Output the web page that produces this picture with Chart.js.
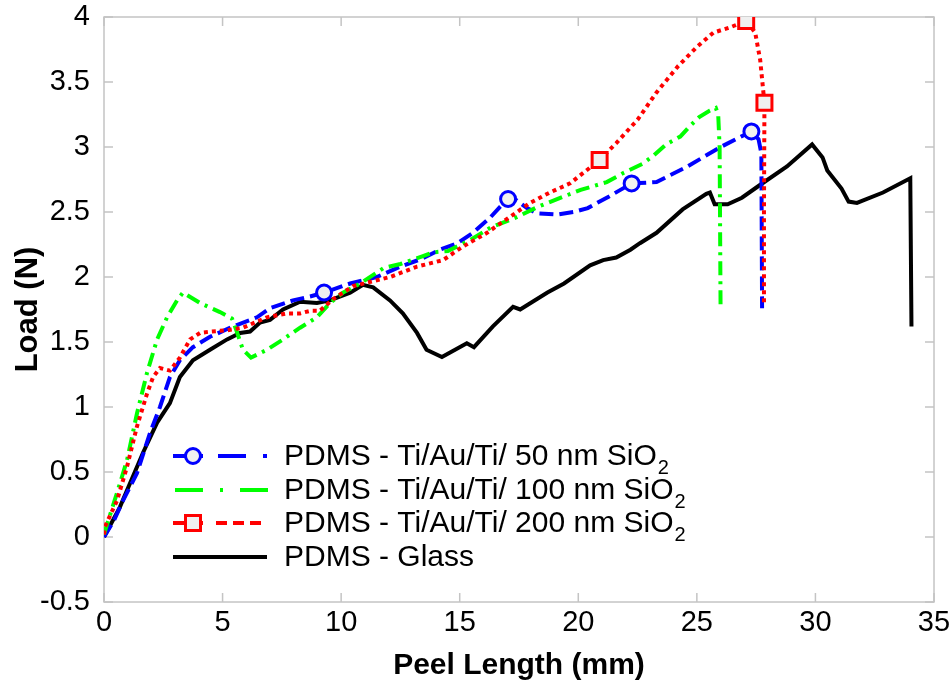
<!DOCTYPE html>
<html>
<head>
<meta charset="utf-8">
<script src="https://cdn.jsdelivr.net/npm/chart.js@4"></script>
<style>
  html, body { margin: 0; padding: 0; background: #fff; }
  #wrap { width: 951px; height: 684px; position: relative; }
</style>
</head>
<body>
<div id="wrap"><canvas id="chart" width="951" height="684"></canvas></div>
<script>
// Peel test curves

const seriesLabels = [
  'PDMS - Ti/Au/Ti/ 50 nm SiO',
  'PDMS - Ti/Au/Ti/ 100 nm SiO',
  'PDMS - Ti/Au/Ti/ 200 nm SiO',
  'PDMS - Glass'
];
const labelSubs = ['2', '2', '2', ''];

const xTicks = [0, 5, 10, 15, 20, 25, 30, 35];
const yTicks = [-0.5, 0, 0.5, 1, 1.5, 2, 2.5, 3, 3.5, 4];

// 50 nm SiO2
const nm50X = [0, 0.4, 0.8, 1.39, 1.94, 2.36, 2.78, 3.2, 3.75, 4.47, 5.44, 6.45, 7.0, 7.97, 8.69, 9.28,
  10.38, 11.5, 12.5, 13.4, 14.17, 14.9, 15.56, 16.3, 16.7, 17.04, 17.4, 17.84, 18.26, 19.1, 19.8, 20.4,
  21.3, 22.25, 23.3, 24.6, 26.0, 27.3, 27.6, 27.72, 27.75];
const nm50Y = [0, 0.12, 0.28, 0.49, 0.80, 1.0, 1.23, 1.36, 1.46, 1.54, 1.62, 1.69, 1.76, 1.82, 1.85, 1.88,
  1.95, 2.0, 2.08, 2.14, 2.21, 2.26, 2.34, 2.46, 2.54, 2.60, 2.59, 2.53, 2.49, 2.48, 2.50, 2.53,
  2.62, 2.72, 2.73, 2.85, 3.0, 3.12, 3.06, 2.95, 1.76];
const nm50Markers = [9.28, 17.04, 22.25, 27.3];

// 100 nm SiO2
const nm100X = [0, 0.1, 0.55, 0.97, 1.39, 1.81, 2.24, 2.66, 3.08, 3.33, 4.05, 4.89, 5.4, 5.6, 5.86, 6.2,
  6.87, 7.55, 8.27, 8.98, 9.53, 10.08, 10.8, 11.8, 12.5, 13.45, 13.9, 14.5, 15.4, 16.3, 17.4, 18.3,
  19.4, 20.1, 21.2, 21.9, 22.7, 23.15, 23.7, 24.3, 24.7, 25.1, 25.55, 25.8, 25.9, 25.96, 26.0];
const nm100Y = [0.02, 0.08, 0.34, 0.59, 0.95, 1.26, 1.52, 1.69, 1.82, 1.88, 1.80, 1.73, 1.68, 1.58, 1.44, 1.38,
  1.44, 1.52, 1.61, 1.69, 1.80, 1.88, 1.95, 2.07, 2.10, 2.16, 2.19, 2.20, 2.28, 2.38, 2.46, 2.54,
  2.62, 2.67, 2.73, 2.80, 2.87, 2.93, 3.02, 3.08, 3.16, 3.23, 3.28, 3.30, 3.25, 3.0, 1.76];

// 200 nm SiO2
const nm200X = [0, 0.04, 0.55, 0.97, 1.39, 1.81, 2.07, 2.36, 2.78, 3.2, 3.63, 4.05, 4.47, 5.19, 5.86, 6.87,
  7.7, 8.27, 8.7, 9.1, 9.66, 10.5, 12.06, 13.2, 14.3, 15.1, 16.15, 17.1, 17.97, 18.8, 19.65, 20.9,
  21.6, 22.5, 23.3, 24.2, 25.0, 25.7, 26.4, 27.08, 27.46, 27.67, 27.85, 27.83, 27.83];
const nm200Y = [0.02, 0.08, 0.28, 0.54, 0.85, 1.10, 1.23, 1.30, 1.28, 1.38, 1.52, 1.57, 1.58, 1.59, 1.61, 1.69,
  1.72, 1.72, 1.74, 1.74, 1.83, 1.93, 2.0, 2.08, 2.13, 2.23, 2.34, 2.46, 2.57, 2.65, 2.72, 2.90,
  3.03, 3.21, 3.42, 3.62, 3.77, 3.88, 3.92, 3.97, 3.88, 3.67, 3.34, 2.5, 1.80];
const nm200Markers = [20.9, 27.08, 27.85];

// PDMS - Glass
const glassX = [0, 0.67, 1.65, 2.24, 2.78, 3.2, 3.75, 4.47, 5.19, 5.74, 6.16, 6.58, 7.0, 7.55, 8.27, 8.98,
  9.53, 10.38, 10.92, 11.35, 12.06, 12.6, 13.2, 13.6, 14.25, 14.9, 15.3, 15.6, 16.4, 17.25, 17.55, 18.7,
  19.4, 20.5, 21.05, 21.6, 22.2, 22.6, 23.3, 24.4, 25.4, 25.55, 25.75, 26.3, 26.9, 27.6, 28.8, 29.86,
  30.3, 30.5, 31.1, 31.4, 31.75, 32.85, 34.0, 34.05];
const glassY = [0, 0.23, 0.65, 0.88, 1.03, 1.23, 1.36, 1.44, 1.52, 1.57, 1.58, 1.65, 1.67, 1.75, 1.81, 1.80,
  1.82, 1.88, 1.94, 1.92, 1.82, 1.72, 1.57, 1.44, 1.385, 1.45, 1.49, 1.46, 1.62, 1.77, 1.75, 1.88,
  1.95, 2.09, 2.13, 2.15, 2.21, 2.26, 2.34, 2.52, 2.64, 2.65, 2.56, 2.56, 2.61, 2.70, 2.85, 3.02,
  2.92, 2.82, 2.68, 2.58, 2.57, 2.65, 2.76, 1.62];

const FONT = '"Liberation Sans", Arial, Helvetica, sans-serif';

function pts(xs, ys) {
  return xs.map((x, i) => ({ x: x, y: ys[i] }));
}

function markerRadius(list, r) {
  return function(c) {
    if (!c.raw) return 0;
    return list.indexOf(c.raw.x) >= 0 ? r : 0;
  };
}

// MATLAB-like box with inward ticks
const boxPlugin = {
  id: 'box',
  beforeDatasetsDraw(chart) {
    const ctx = chart.ctx;
    const a = chart.chartArea;
    const xs = chart.scales.x, ys = chart.scales.y;
    ctx.save();
    ctx.strokeStyle = '#c4c4c4';
    ctx.lineWidth = 1.5;
    ctx.strokeRect(a.left, a.top, a.right - a.left, a.bottom - a.top);
    ctx.beginPath();
    xTicks.forEach(v => {
      const px = xs.getPixelForValue(v);
      ctx.moveTo(px, a.bottom); ctx.lineTo(px, a.bottom - 9);
      ctx.moveTo(px, a.top); ctx.lineTo(px, a.top + 9);
    });
    yTicks.forEach(v => {
      const py = ys.getPixelForValue(v);
      ctx.moveTo(a.left, py); ctx.lineTo(a.left + 9, py);
      ctx.moveTo(a.right, py); ctx.lineTo(a.right - 9, py);
    });
    ctx.stroke();
    ctx.restore();
  }
};

// legend drawn by hand to get MATLAB style samples
const legendPlugin = {
  id: 'matlabLegend',
  afterDraw(chart) {
    const ctx = chart.ctx;
    const rows = [456, 490, 523, 557];
    ctx.save();
    ctx.lineWidth = 4;
    ctx.lineCap = 'butt';

    // blue
    let y = rows[0];
    ctx.strokeStyle = '#0000ff';
    ctx.setLineDash([30, 15, 28, 17, 4, 100]);
    ctx.beginPath(); ctx.moveTo(173, y); ctx.lineTo(267, y); ctx.stroke();
    ctx.setLineDash([]);
    ctx.fillStyle = '#f0f0f0';
    ctx.lineWidth = 3;
    ctx.beginPath(); ctx.arc(193, y, 7.5, 0, Math.PI * 2); ctx.fill(); ctx.stroke();

    // green
    y = rows[1];
    ctx.lineWidth = 4;
    ctx.strokeStyle = '#00ff00';
    ctx.setLineDash([28, 17, 3, 17, 28, 100]);
    ctx.beginPath(); ctx.moveTo(175, y); ctx.lineTo(268, y); ctx.stroke();

    // red
    y = rows[2];
    ctx.strokeStyle = '#ff0000';
    ctx.setLineDash([]);
    ctx.beginPath(); ctx.moveTo(173, y); ctx.lineTo(203, y); ctx.stroke();
    ctx.setLineDash([11, 6]);
    ctx.beginPath(); ctx.moveTo(216, y); ctx.lineTo(262, y); ctx.stroke();
    ctx.setLineDash([]);
    ctx.lineWidth = 3;
    ctx.beginPath(); ctx.rect(185.5, y - 7.5, 15, 15); ctx.fill(); ctx.stroke();

    // black
    y = rows[3];
    ctx.lineWidth = 4;
    ctx.strokeStyle = '#000000';
    ctx.beginPath(); ctx.moveTo(173, y); ctx.lineTo(267, y); ctx.stroke();

    // labels
    ctx.fillStyle = '#000';
    ctx.textBaseline = 'middle';
    ctx.textAlign = 'left';
    seriesLabels.forEach((t, i) => {
      ctx.font = '30px ' + FONT;
      ctx.fillText(t, 284, rows[i] + 1);
      if (labelSubs[i]) {
        const w = ctx.measureText(t).width;
        ctx.font = '20px ' + FONT;
        ctx.fillText(labelSubs[i], 284 + w + 1, rows[i] + 12);
      }
    });
    ctx.restore();
  }
};

const ctx = document.getElementById('chart').getContext('2d');
new Chart(ctx, {
  type: 'line',
  data: {
    datasets: [
      {
        label: seriesLabels[2],
        data: pts(nm200X, nm200Y),
        borderColor: '#ff0000',
        borderWidth: 4,
        borderDash: [4, 4],
        pointStyle: 'rect',
        pointRadius: markerRadius(nm200Markers, 10.6),
        pointBorderWidth: 3,
        pointBorderColor: '#ff0000',
        pointBackgroundColor: '#f0f0f0',
        tension: 0
      },
      {
        label: seriesLabels[1],
        data: pts(nm100X, nm100Y),
        borderColor: '#00ff00',
        borderWidth: 4,
        borderDash: [14, 6, 3, 6],
        pointRadius: 0,
        tension: 0
      },
      {
        label: seriesLabels[0],
        data: pts(nm50X, nm50Y),
        borderColor: '#0000ff',
        borderWidth: 4,
        borderDash: [14, 6],
        pointStyle: 'circle',
        pointRadius: markerRadius(nm50Markers, 7.5),
        pointBorderWidth: 3,
        pointBorderColor: '#0000ff',
        pointBackgroundColor: '#f0f0f0',
        tension: 0
      },
      {
        label: seriesLabels[3],
        data: pts(glassX, glassY),
        borderColor: '#000000',
        borderWidth: 4,
        pointRadius: 0,
        tension: 0
      }
    ]
  },
  options: {
    responsive: false,
    animation: false,
    devicePixelRatio: 1,
    layout: { padding: { top: 17, right: 17, left: 0, bottom: 0 } },
    plugins: {
      legend: { display: false },
      tooltip: { enabled: false }
    },
    scales: {
      x: {
        type: 'linear',
        min: 0,
        max: 35,
        afterBuildTicks: s => { s.ticks = xTicks.map(v => ({ value: v })); },
        afterFit: s => { s.height = 82; },
        grid: { display: false, drawTicks: true, tickLength: 5 },
        border: { display: false },
        ticks: {
          padding: 0,
          color: '#000',
          font: { family: FONT, size: 29, lineHeight: 1.1 },
          maxRotation: 0,
          callback: v => String(v)
        },
        title: {
          display: true,
          text: 'Peel Length (mm)',
          color: '#000',
          font: { family: FONT, size: 30, weight: 'bold' },
          padding: { top: 0, bottom: 0 }
        }
      },
      y: {
        type: 'linear',
        min: -0.5,
        max: 4,
        afterBuildTicks: s => { s.ticks = yTicks.map(v => ({ value: v })); },
        afterFit: s => { s.width = 104; },
        grid: { display: false, drawTicks: true, tickLength: 14 },
        border: { display: false },
        ticks: {
          padding: 0,
          color: '#000',
          font: { family: FONT, size: 29, lineHeight: 1.1 },
          callback: v => String(v)
        },
        title: {
          display: true,
          text: 'Load (N)',
          color: '#000',
          font: { family: FONT, size: 31, weight: 'bold' },
          padding: { top: 10, bottom: 0 }
        }
      }
    }
  },
  plugins: [boxPlugin, legendPlugin]
});
</script>
</body>
</html>
